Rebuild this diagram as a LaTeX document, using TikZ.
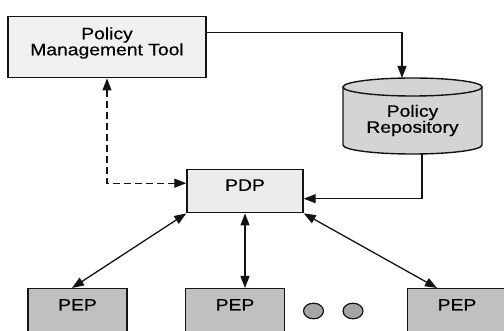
\documentclass[tikz,border=0pt]{standalone}
\usepackage{fontspec}
\setmainfont[FakeStretch=1.17,FakeBold=0.5]{Liberation Sans}
\usetikzlibrary{arrows.meta}
\definecolor{pmtfill}{RGB}{240,240,240}
\definecolor{pdpfill}{RGB}{236,236,236}
\definecolor{cylfill}{RGB}{212,212,212}
\definecolor{pepfill}{RGB}{192,192,192}
\definecolor{dotfill}{RGB}{165,165,165}
\definecolor{ink}{RGB}{20,20,20}
\tikzset{
  boxstyle/.style={draw=ink, line width=1.4pt, inner sep=0pt},
  pepbox/.style={boxstyle, fill=pepfill, anchor=north, minimum width=99pt,
    text height=11.8pt, text depth=40pt, inner ysep=10pt},
  arr/.style={draw=ink, line width=1.3pt, -{Triangle[length=12pt,width=9pt]}},
  dbl/.style={draw=ink, line width=1.3pt, {Triangle[length=12pt,width=9pt]}-{Triangle[length=12pt,width=9pt]}},
  dashline/.style={dash pattern=on 7pt off 4pt}
}
\begin{document}
\begin{tikzpicture}[x=1pt,y=-1pt, font=\fontsize{16.5}{16}\selectfont, text=black]
\useasboundingbox (0,0) rectangle (504,331);
\clip (0,0) rectangle (504,331);

% Policy Management Tool
\node[boxstyle, fill=pmtfill, minimum width=198pt, minimum height=61pt] (pmt) at (107,47.2) {};
\node[align=center, inner sep=0pt] (pmttext) at (107,43) {Policy\\Management Tool};

% Policy Repository (cylinder)
\fill[cylfill] (343,87) -- (343,145) arc[start angle=180, end angle=0, x radius=69.5, y radius=9]
  -- (482,87) arc[start angle=0, end angle=-180, x radius=69.5, y radius=9] -- cycle;
\draw[ink, line width=1.4pt] (343,87) -- (343,145) arc[start angle=180, end angle=0, x radius=69.5, y radius=9] -- (482,87);
\draw[ink, line width=1.4pt] (412.5,87) ellipse[x radius=69.5, y radius=9];
\node[align=center, inner sep=0pt] (repo) at (412.5,120.5) {Policy\\Repository};
\coordinate (cyltop) at (402,78);
\coordinate (cylbot) at (422,153.8);

% PDP
\node[boxstyle, fill=pdpfill, anchor=north, minimum width=116pt,
  text height=11.8pt, text depth=12.6pt, inner ysep=9.3pt] (pdp) at (245,169) {PDP};

% PEPs
\node[pepbox] (pep1) at (77.5,288) {PEP};
\node[pepbox] (pep2) at (235,288) {PEP};
\node[pepbox] (pep3) at (457,288) {PEP};
\coordinate (pep1in) at (72,288);
\coordinate (pep3in) at (437,288);

% dots
\draw[ink, line width=1.2pt, fill=dotfill] (313.5,311) ellipse[x radius=10, y radius=7.8];
\draw[ink, line width=1.2pt, fill=dotfill] (353,311) ellipse[x radius=10, y radius=7.8];

% connectors
\draw[arr] ([yshift=15pt]pmt.east) -| (cyltop);
\draw[arr] (cylbot) |- ([yshift=-7.5pt]pdp.east);
\draw[dbl, dashline] ([yshift=8pt]pdp.west) -| (pmt.south);
\draw[dbl] (pdp.south west) -- (pep1in);
\draw[dbl] (pdp.south) -- (pdp.south |- pep2.north);
\draw[dbl] (pdp.south east) -- (pep3in);
\end{tikzpicture}
\end{document}
